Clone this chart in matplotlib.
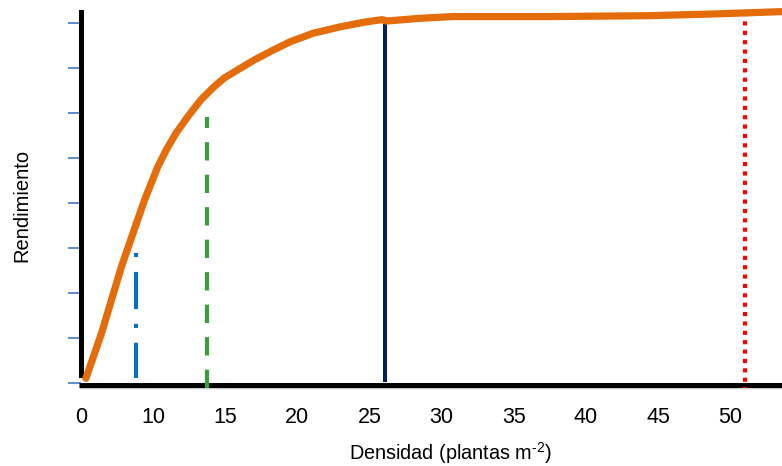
import matplotlib
matplotlib.use("Agg")
import matplotlib.pyplot as plt

plt.rcParams['font.family'] = ['Liberation Sans', 'DejaVu Sans']
plt.rcParams['mathtext.default'] = 'regular'

# Yield response curve (density units, yield units)
density = [5.34, 6.42, 7.11, 7.80, 8.60, 9.40, 10.32, 10.90, 11.59, 12.39,
           13.31, 14.22, 14.91, 15.83, 16.98, 18.35, 19.50, 21.10, 22.94, 24.55,
           25.58, 25.92, 26.15, 28.45, 30.74, 37.62, 44.5, 49.09, 53.59]
yield_ = [0.11, 1.11, 1.85, 2.59, 3.33, 4.07, 4.81, 5.18, 5.56, 5.92,
          6.30, 6.59, 6.78, 6.96, 7.18, 7.41, 7.59, 7.78, 7.92, 8.02,
          8.07, 8.08, 8.05, 8.11, 8.15, 8.15, 8.17, 8.21, 8.26]

# Vertical reference lines: x position, (bottom, top)
blue_x, blue_y = 8.79, (0.12, 2.90)
green_x, green_y = 13.74, (-0.10, 5.92)
navy_x, navy_y = 26.05, (0.03, 7.98)
red_x, red_y = 51.04, (-0.10, 8.25)

xtick_pos = [5, 10, 15, 20, 25, 30, 35, 40, 45, 50]
xtick_labels = ['0', '10', '15', '20', '25', '30', '35', '40', '45', '50']
ytick_pos = [0, 1, 2, 3, 4, 5, 6, 7, 8]

W, H = 782, 466
fig = plt.figure(figsize=(W / 100, H / 100), dpi=100)
ax = fig.add_axes([81 / W, 1 - 385 / H, (W - 81) / W, (385 - 5) / H])
ax.set_xlim(5.344, 53.59)
ax.set_ylim(-0.038, 8.407)

for s in ['top', 'right', 'bottom']:
    ax.spines[s].set_visible(False)
ax.spines['left'].set_linewidth(3.6)
ax.spines['left'].set_color('black')
ax.spines['left'].set_bounds(0.18, 8.25)

# horizontal axis line with slight shadow
ax.plot([4.86, 53.6], [-0.075, -0.075], color='#cccccc', lw=2.5, clip_on=False, zorder=2,
        solid_capstyle='butt')
ax.plot([4.86, 53.6], [-0.03, -0.03], color='black', lw=3.6, clip_on=False, zorder=3,
        solid_capstyle='butt')

ax.set_xticks(xtick_pos)
ax.set_xticklabels(xtick_labels)
ax.tick_params(axis='x', length=0, pad=15.5, labelsize=15.5)
ax.set_yticks(ytick_pos)
ax.set_yticklabels([])
ax.tick_params(axis='y', direction='out', length=9.5, width=1.4, color='#5a8ccc')

# reference lines
ax.plot([blue_x, blue_x], [blue_y[1], blue_y[0]], color='#0070C0', lw=2.9,
        linestyle=(0, (1.0, 3.7, 9.2, 3.7)), dash_capstyle='butt', zorder=4, clip_on=False)
ax.plot([green_x, green_x], [green_y[0], green_y[1]], color='#3A9E3A', lw=3.0,
        linestyle=(0, (4.4, 3.4)), dash_capstyle='butt', zorder=4, clip_on=False)
ax.plot([navy_x, navy_x], [navy_y[0], navy_y[1]], color='#002060', lw=2.9,
        solid_capstyle='butt', zorder=4, clip_on=False)
ax.plot([red_x, red_x], [red_y[1], red_y[0]], color='#FF0000', lw=3.0,
        linestyle=(0, (1.0, 1.25)), dash_capstyle='butt', zorder=4, clip_on=False)

ax.plot(density, yield_, color='#E46C0A', lw=5.2, solid_capstyle='round',
        solid_joinstyle='round', zorder=5, clip_on=False)

ax.set_ylabel('Rendimiento', fontsize=14.5)
ax.yaxis.set_label_coords((31.5 - 81) / 701, 0.472)
ax.set_xlabel('Densidad (plantas m$^{\u20102}$)', fontsize=14.3)
ax.xaxis.label.set_va('baseline')
ax.xaxis.set_label_coords((450 - 81) / 701, (385 - 460) / 380)

fig.savefig('out.png', dpi=100)
